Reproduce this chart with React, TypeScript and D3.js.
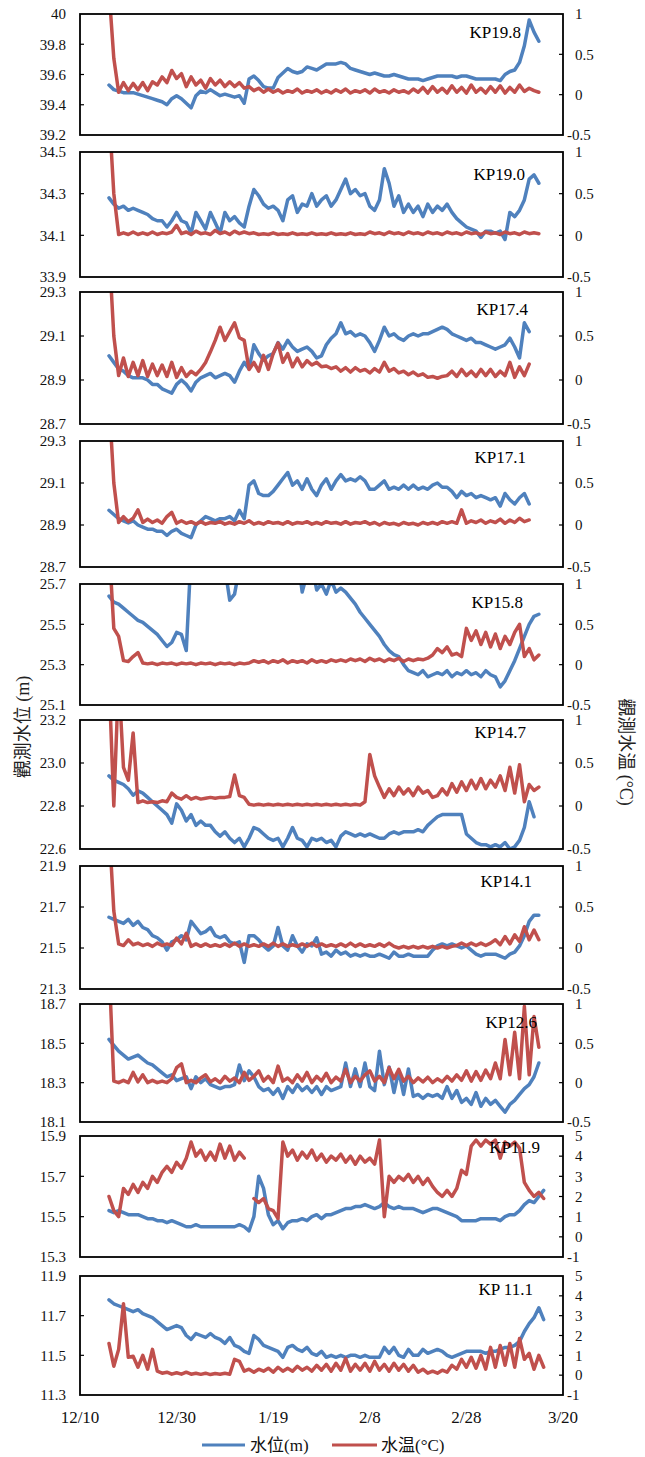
import React from 'react';
import * as d3 from 'd3';

// daily readings, first value is 12/16
const firstReading = '2014-12-16';
const axisDates = ['2014-12-10', '2014-12-30', '2015-01-19', '2015-02-08', '2015-02-28', '2015-03-20'];

const stationNames = ['KP19.8', 'KP19.0', 'KP17.4', 'KP17.1', 'KP15.8', 'KP14.7', 'KP14.1', 'KP12.6', 'KP11.9', 'KP 11.1'];

const levelTickLabels = [
  ['39.2', '39.4', '39.6', '39.8', '40'],
  ['33.9', '34.1', '34.3', '34.5'],
  ['28.7', '28.9', '29.1', '29.3'],
  ['28.7', '28.9', '29.1', '29.3'],
  ['25.1', '25.3', '25.5', '25.7'],
  ['22.6', '22.8', '23.0', '23.2'],
  ['21.3', '21.5', '21.7', '21.9'],
  ['18.1', '18.3', '18.5', '18.7'],
  ['15.3', '15.5', '15.7', '15.9'],
  ['11.3', '11.5', '11.7', '11.9'],
];
const smallTempTicks = ['-0.5', '0', '0.5', '1'];
const wideTempTicks = ['-1', '0', '1', '2', '3', '4', '5'];
const tempTickLabels = [
  smallTempTicks, smallTempTicks, smallTempTicks, smallTempTicks, smallTempTicks,
  smallTempTicks, smallTempTicks, smallTempTicks, wideTempTicks, wideTempTicks,
];

const legendLabels = ['水位(m)', '水温(°C)'];

// 水位 (m)
const kp198Level = [
  39.53, 39.50, 39.49, 39.48, 39.48, 39.48, 39.47, 39.46, 39.45, 39.44,
  39.43, 39.42, 39.40, 39.44, 39.46, 39.44, 39.41, 39.38, 39.46, 39.49,
  39.48, 39.50, 39.48, 39.46, 39.47, 39.46, 39.45, 39.46, 39.41, 39.57,
  39.59, 39.56, 39.52, 39.51, 39.51, 39.58, 39.61, 39.64, 39.62, 39.61,
  39.62, 39.65, 39.64, 39.63, 39.65, 39.67, 39.67, 39.67, 39.68, 39.67,
  39.64, 39.63, 39.62, 39.61, 39.60, 39.61, 39.60, 39.59, 39.59, 39.60,
  39.59, 39.58, 39.57, 39.57, 39.57, 39.56, 39.57, 39.58, 39.59, 39.59,
  39.59, 39.59, 39.58, 39.59, 39.59, 39.58, 39.57, 39.57, 39.57, 39.57,
  39.57, 39.56, 39.60, 39.62, 39.63, 39.68, 39.79, 39.96, 39.88, 39.82,
];
const kp190Level = [
  34.28, 34.25, 34.23, 34.24, 34.22, 34.23, 34.22, 34.21, 34.20, 34.18,
  34.17, 34.17, 34.14, 34.17, 34.21, 34.17, 34.16, 34.11, 34.21, 34.17,
  34.13, 34.21, 34.16, 34.11, 34.21, 34.17, 34.19, 34.16, 34.14, 34.24,
  34.32, 34.29, 34.25, 34.23, 34.24, 34.22, 34.17, 34.27, 34.29, 34.21,
  34.25, 34.24, 34.30, 34.24, 34.27, 34.29, 34.24, 34.27, 34.32, 34.37,
  34.30, 34.32, 34.29, 34.30, 34.24, 34.22, 34.27, 34.42, 34.35, 34.24,
  34.29, 34.21, 34.25, 34.21, 34.24, 34.19, 34.25, 34.21, 34.24, 34.22,
  34.25, 34.21, 34.18, 34.16, 34.14, 34.13, 34.12, 34.09, 34.12, 34.12,
  34.11, 34.12, 34.08, 34.21, 34.19, 34.22, 34.27, 34.37, 34.39, 34.35,
];
const kp174Level = [
  29.01, 28.98, 28.95, 28.94, 28.92, 28.91, 28.91, 28.91, 28.90, 28.88,
  28.88, 28.86, 28.85, 28.84, 28.88, 28.90, 28.88, 28.85, 28.89, 28.91,
  28.92, 28.93, 28.91, 28.92, 28.93, 28.92, 28.89, 28.94, 28.98, 28.95,
  29.06, 29.02, 28.99, 29.01, 29.02, 29.07, 29.04, 29.08, 29.05, 29.03,
  29.04, 29.05, 29.03, 29.00, 29.01, 29.06, 29.09, 29.11, 29.16, 29.11,
  29.12, 29.10, 29.11, 29.10, 29.07, 29.03, 29.08, 29.14, 29.10, 29.11,
  29.09, 29.08, 29.10, 29.11, 29.10, 29.11, 29.11, 29.12, 29.13, 29.14,
  29.13, 29.11, 29.10, 29.09, 29.08, 29.09, 29.07, 29.07, 29.06, 29.05,
  29.04, 29.05, 29.06, 29.09, 29.05, 29.00, 29.16, 29.12,
];
const kp171Level = [
  28.97, 28.95, 28.93, 28.92, 28.91, 28.92, 28.90, 28.89, 28.88, 28.88,
  28.87, 28.87, 28.85, 28.87, 28.88, 28.86, 28.85, 28.84, 28.90, 28.92,
  28.94, 28.93, 28.92, 28.93, 28.93, 28.94, 28.92, 28.97, 28.93, 29.09,
  29.11, 29.05, 29.04, 29.04, 29.06, 29.09, 29.12, 29.15, 29.09, 29.11,
  29.07, 29.12, 29.07, 29.04, 29.09, 29.12, 29.07, 29.11, 29.14, 29.11,
  29.12, 29.11, 29.13, 29.11, 29.07, 29.07, 29.09, 29.11, 29.07, 29.08,
  29.07, 29.09, 29.07, 29.09, 29.07, 29.08, 29.07, 29.09, 29.10, 29.08,
  29.08, 29.06, 29.03, 29.06, 29.04, 29.05, 29.03, 29.04, 29.03, 29.02,
  29.03, 28.99, 29.05, 29.02, 29.00, 29.03, 29.05, 29.00,
];
const kp158Level = [
  25.64, 25.61, 25.60, 25.58, 25.56, 25.54, 25.52, 25.51, 25.49, 25.47,
  25.45, 25.42, 25.39, 25.41, 25.46, 25.45, 25.37, 25.85, 25.85, 25.85,
  25.85, 25.85, 25.85, 25.85, 25.78, 25.62, 25.65, 25.78, 25.85, 25.85,
  25.85, 25.85, 25.85, 25.85, 25.85, 25.85, 25.85, 25.85, 25.85, 25.85,
  25.66, 25.75, 25.80, 25.67, 25.70, 25.65, 25.72, 25.66, 25.68, 25.66,
  25.63, 25.60, 25.56, 25.53, 25.50, 25.47, 25.44, 25.40, 25.37, 25.35,
  25.34, 25.30, 25.27, 25.26, 25.25, 25.27, 25.24, 25.25, 25.26, 25.25,
  25.27, 25.24, 25.26, 25.25, 25.27, 25.25, 25.26, 25.24, 25.27, 25.25,
  25.24, 25.19, 25.22, 25.27, 25.32, 25.38, 25.44, 25.50, 25.54, 25.55,
];
const kp147Level = [
  22.94, 22.92, 22.91, 22.90, 22.88, 22.85, 22.87, 22.86, 22.84, 22.82,
  22.80, 22.78, 22.76, 22.72, 22.81, 22.78, 22.73, 22.76, 22.71, 22.73,
  22.71, 22.71, 22.68, 22.66, 22.68, 22.65, 22.63, 22.65, 22.61, 22.65,
  22.70, 22.69, 22.67, 22.65, 22.64, 22.65, 22.61, 22.65, 22.70, 22.65,
  22.64, 22.61, 22.65, 22.64, 22.65, 22.63, 22.64, 22.61, 22.66, 22.68,
  22.67, 22.66, 22.67, 22.66, 22.67, 22.66, 22.65, 22.65, 22.67, 22.68,
  22.67, 22.68, 22.68, 22.68, 22.69, 22.68, 22.71, 22.73, 22.75, 22.76,
  22.76, 22.76, 22.76, 22.76, 22.67, 22.65, 22.63, 22.62, 22.62, 22.61,
  22.62, 22.61, 22.63, 22.60, 22.61, 22.64, 22.70, 22.82, 22.75,
];
const kp141Level = [
  21.65, 21.64, 21.63, 21.62, 21.64, 21.61, 21.63, 21.60, 21.59, 21.56,
  21.55, 21.53, 21.49, 21.53, 21.54, 21.56, 21.54, 21.63, 21.60, 21.57,
  21.58, 21.60, 21.56, 21.55, 21.56, 21.53, 21.52, 21.53, 21.43, 21.56,
  21.56, 21.54, 21.51, 21.49, 21.51, 21.60, 21.51, 21.49, 21.56, 21.51,
  21.48, 21.52, 21.51, 21.55, 21.47, 21.48, 21.46, 21.49, 21.47, 21.48,
  21.46, 21.47, 21.46, 21.47, 21.46, 21.46, 21.47, 21.46, 21.45, 21.48,
  21.46, 21.46, 21.47, 21.46, 21.46, 21.46, 21.46, 21.49, 21.51, 21.52,
  21.51, 21.52, 21.51, 21.50, 21.51, 21.49, 21.47, 21.46, 21.47, 21.47,
  21.47, 21.46, 21.45, 21.47, 21.48, 21.51, 21.56, 21.63, 21.66, 21.66,
];
const kp126Level = [
  18.52, 18.49, 18.46, 18.44, 18.42, 18.43, 18.44, 18.42, 18.40, 18.39,
  18.37, 18.35, 18.33, 18.34, 18.31, 18.32, 18.33, 18.27, 18.33, 18.30,
  18.32, 18.29, 18.28, 18.27, 18.28, 18.28, 18.29, 18.39, 18.31, 18.36,
  18.33, 18.28, 18.26, 18.27, 18.24, 18.27, 18.22, 18.28, 18.25, 18.29,
  18.26, 18.28, 18.25, 18.28, 18.24, 18.28, 18.26, 18.27, 18.28, 18.40,
  18.28, 18.37, 18.28, 18.40, 18.28, 18.26, 18.46, 18.29, 18.38, 18.25,
  18.36, 18.24, 18.37, 18.23, 18.24, 18.22, 18.24, 18.23, 18.24, 18.22,
  18.28, 18.22, 18.26, 18.20, 18.22, 18.19, 18.25, 18.18, 18.22, 18.19,
  18.21, 18.18, 18.15, 18.19, 18.21, 18.24, 18.27, 18.29, 18.33, 18.40,
];
const kp119Level = [
  15.53, 15.52, 15.53, 15.52, 15.51, 15.51, 15.51, 15.50, 15.49, 15.49,
  15.48, 15.48, 15.47, 15.48, 15.47, 15.46, 15.45, 15.45, 15.46, 15.45,
  15.45, 15.45, 15.45, 15.45, 15.45, 15.45, 15.45, 15.46, 15.45, 15.43,
  15.50, 15.70, 15.64, 15.51, 15.46, 15.48, 15.44, 15.47, 15.48, 15.48,
  15.49, 15.48, 15.50, 15.51, 15.49, 15.51, 15.51, 15.52, 15.53, 15.54,
  15.54, 15.55, 15.55, 15.56, 15.55, 15.54, 15.55, 15.57, 15.55, 15.54,
  15.55, 15.54, 15.54, 15.54, 15.53, 15.52, 15.53, 15.54, 15.54, 15.53,
  15.52, 15.51, 15.50, 15.48, 15.48, 15.48, 15.48, 15.49, 15.49, 15.49,
  15.49, 15.48, 15.50, 15.51, 15.51, 15.53, 15.56, 15.58, 15.57, 15.60, 15.63,
];
const kp111Level = [
  11.78, 11.76, 11.75, 11.74, 11.73, 11.72, 11.73, 11.71, 11.70, 11.69,
  11.67, 11.65, 11.63, 11.64, 11.65, 11.64, 11.60, 11.58, 11.61, 11.60,
  11.59, 11.61, 11.59, 11.58, 11.56, 11.59, 11.55, 11.54, 11.52, 11.51,
  11.60, 11.58, 11.55, 11.54, 11.53, 11.52, 11.49, 11.54, 11.55, 11.53,
  11.52, 11.54, 11.51, 11.50, 11.52, 11.49, 11.50, 11.49, 11.50, 11.49,
  11.50, 11.50, 11.49, 11.50, 11.49, 11.49, 11.49, 11.54, 11.51, 11.54,
  11.50, 11.49, 11.53, 11.50, 11.50, 11.53, 11.51, 11.52, 11.53, 11.52,
  11.50, 11.49, 11.50, 11.51, 11.52, 11.52, 11.52, 11.52, 11.51, 11.52,
  11.52, 11.53, 11.54, 11.54, 11.55, 11.57, 11.62, 11.66, 11.69, 11.74, 11.68,
];

// 水温 (°C)
const kp198Temp = [
  1.3, 0.45, 0.03, 0.15, 0.05, 0.14, 0.06, 0.15, 0.05, 0.16,
  0.12, 0.22, 0.15, 0.3, 0.2, 0.26, 0.1, 0.22, 0.12, 0.18,
  0.08, 0.2, 0.12, 0.18, 0.1, 0.16, 0.1, 0.15, 0.08, 0.1,
  0.05, 0.08, 0.03, 0.07, 0.03, 0.06, 0.02, 0.05, 0.03, 0.07,
  0.02, 0.05, 0.03, 0.06, 0.02, 0.05, 0.02, 0.06, 0.03, 0.07,
  0.02, 0.05, 0.03, 0.06, 0.02, 0.07, 0.03, 0.05, 0.02, 0.06,
  0.03, 0.05, 0.02, 0.07, 0.03, 0.09, 0.02, 0.1, 0.03, 0.08,
  0.02, 0.11, 0.03, 0.09, 0.02, 0.12, 0.03, 0.08, 0.02, 0.1,
  0.03, 0.11, 0.02, 0.09, 0.03, 0.12, 0.04, 0.08, 0.05, 0.03,
];
const kp190Temp = [
  1.5, 0.5, 0.01, 0.03, 0.01, 0.04, 0.01, 0.03, 0.01, 0.04,
  0.01, 0.03, 0.02, 0.04, 0.12, 0.02, 0.04, 0.01, 0.05, 0.02,
  0.03, 0.01, 0.06, 0.02, 0.04, 0.01, 0.05, 0.02, 0.04, 0.02,
  0.03, 0.01, 0.02, 0.01, 0.03, 0.01, 0.02, 0.01, 0.03, 0.01,
  0.02, 0.01, 0.03, 0.01, 0.02, 0.01, 0.03, 0.01, 0.02, 0.01,
  0.03, 0.01, 0.02, 0.01, 0.04, 0.02, 0.03, 0.01, 0.04, 0.02,
  0.03, 0.01, 0.04, 0.02, 0.03, 0.01, 0.04, 0.02, 0.03, 0.01,
  0.04, 0.02, 0.03, 0.01, 0.04, 0.02, 0.03, 0.01, 0.04, 0.02,
  0.03, 0.01, 0.04, 0.02, 0.03, 0.01, 0.04, 0.02, 0.03, 0.02,
];
const kp174Temp = [
  1.5, 0.5, 0.05, 0.25, 0.04, 0.2, 0.05, 0.22, 0.04, 0.18,
  0.05, 0.17, 0.04, 0.2, 0.03, 0.14, 0.04, 0.1, 0.06, 0.12,
  0.2, 0.32, 0.45, 0.6, 0.45, 0.55, 0.65, 0.48, 0.45, 0.12,
  0.2, 0.1, 0.28, 0.12, 0.3, 0.42, 0.2, 0.3, 0.15, 0.25,
  0.15, 0.22, 0.17, 0.2, 0.15, 0.16, 0.13, 0.15, 0.1, 0.14,
  0.09, 0.14, 0.1, 0.12, 0.08, 0.13, 0.09, 0.2, 0.1, 0.13,
  0.08, 0.1, 0.06, 0.09, 0.05, 0.07, 0.03, 0.04, 0.02, 0.04,
  0.05, 0.1, 0.04, 0.12, 0.05, 0.1, 0.04, 0.12, 0.05, 0.12,
  0.04, 0.1, 0.05, 0.2, 0.03, 0.15, 0.05, 0.18,
];
const kp171Temp = [
  1.5, 0.5, 0.03, 0.1, 0.04, 0.08, 0.18, 0.03, 0.07, 0.03,
  0.06, 0.02, 0.1, 0.15, 0.02, 0.05, 0.02, 0.04, 0.01, 0.04,
  0.01, 0.03, 0.02, 0.04, 0.01, 0.03, 0.01, 0.04, 0.02, 0.05,
  0.01, 0.03, 0.01, 0.04, 0.02, 0.03, 0.01, 0.04, 0.01, 0.03,
  0.02, 0.04, 0.01, 0.03, 0.01, 0.04, 0.02, 0.03, 0.01, 0.04,
  0.01, 0.03, 0.02, 0.04, 0.01, 0.03, 0.0, 0.03, 0.01, 0.02,
  0.0, 0.03, 0.01, 0.02, 0.0, 0.03, 0.01, 0.03, 0.01, 0.04,
  0.02, 0.04, 0.02, 0.18, 0.02, 0.05, 0.03, 0.06, 0.02, 0.05,
  0.03, 0.07, 0.02, 0.06, 0.03, 0.08, 0.04, 0.06,
];
const kp158Temp = [
  1.5, 0.45, 0.35, 0.05, 0.04, 0.1, 0.15, 0.02, 0.01, 0.02,
  0.0, 0.02, 0.01, 0.02, 0.0, 0.02, 0.01, 0.02, 0.0, 0.02,
  0.01, 0.02, 0.0, 0.02, 0.01, 0.02, 0.0, 0.02, 0.01, 0.02,
  0.05, 0.03, 0.05, 0.02, 0.05, 0.03, 0.06, 0.02, 0.05, 0.03,
  0.05, 0.02, 0.06, 0.03, 0.05, 0.03, 0.06, 0.04, 0.06, 0.04,
  0.07, 0.05, 0.07, 0.04, 0.08, 0.05, 0.07, 0.04, 0.07, 0.05,
  0.08, 0.04, 0.07, 0.05, 0.07, 0.06, 0.08, 0.12, 0.2, 0.15,
  0.22, 0.12, 0.14, 0.1, 0.45, 0.3, 0.42, 0.25, 0.4, 0.22,
  0.38, 0.2, 0.35, 0.25, 0.4, 0.5, 0.1, 0.2, 0.06, 0.12,
];
const kp147Temp = [
  1.5, 0.0, 1.5, 0.45, 0.3, 0.85, 0.04, 0.06, 0.04, 0.05,
  0.04, 0.06, 0.05, 0.15, 0.1, 0.08, 0.12, 0.08, 0.1, 0.08,
  0.09, 0.1, 0.09, 0.1, 0.1, 0.11, 0.36, 0.12, 0.1, 0.02,
  0.01, 0.02, 0.01, 0.02, 0.01, 0.02, 0.01, 0.02, 0.01, 0.02,
  0.01, 0.02, 0.01, 0.02, 0.01, 0.02, 0.01, 0.02, 0.01, 0.02,
  0.01, 0.02, 0.01, 0.05, 0.6, 0.35, 0.22, 0.1, 0.2, 0.12,
  0.22, 0.14, 0.2, 0.12, 0.22, 0.15, 0.18, 0.1, 0.12, 0.2,
  0.13, 0.26, 0.16, 0.28, 0.18, 0.3, 0.2, 0.32, 0.2, 0.3,
  0.22, 0.35, 0.18, 0.45, 0.15, 0.48, 0.05, 0.25, 0.18, 0.22,
];
const kp141Temp = [
  1.5, 0.45, 0.05, 0.03, 0.1, 0.04, 0.06, 0.03, 0.05, 0.02,
  0.06, 0.03, 0.05, 0.03, 0.12, 0.05, 0.18, 0.02, 0.05, 0.02,
  0.05, 0.02, 0.04, 0.02, 0.05, 0.02, 0.06, 0.02, 0.05, 0.02,
  0.04, 0.02, 0.05, 0.02, 0.06, 0.02, 0.05, 0.02, 0.04, 0.02,
  0.05, 0.02, 0.06, 0.02, 0.05, 0.02, 0.04, 0.02, 0.05, 0.02,
  0.06, 0.02, 0.05, 0.02, 0.04, 0.02, 0.05, 0.02, 0.06, 0.02,
  0.0, 0.02, 0.0, 0.02, 0.0, 0.02, 0.0, 0.02, 0.0, 0.02,
  0.0, 0.02, 0.03, 0.06, 0.03, 0.06, 0.03, 0.06, 0.03, 0.06,
  0.1, 0.04, 0.14, 0.05, 0.16, 0.08, 0.26, 0.1, 0.22, 0.1,
];
const kp126Temp = [
  1.5, 0.02, 0.0, 0.03, 0.0, 0.13, 0.01, 0.1, 0.0, 0.03,
  0.0, 0.02, 0.0, 0.05, 0.19, 0.24, 0.0, 0.03, 0.0, 0.06,
  0.1, 0.01, 0.05, 0.0, 0.08, 0.02, 0.06, 0.0, 0.13, 0.03,
  0.08, 0.15, 0.02, 0.08, 0.0, 0.21, 0.02, 0.06, 0.0, 0.1,
  0.02, 0.13, 0.0, 0.08, 0.02, 0.12, 0.0, 0.07, 0.02, 0.17,
  0.0, 0.08, 0.02, 0.1, 0.15, 0.02, 0.08, 0.0, 0.19, 0.05,
  0.17, 0.02, 0.08, 0.0, 0.06, 0.01, 0.07, 0.0, 0.05, 0.01,
  0.08, 0.02, 0.1, 0.03, 0.15, 0.02, 0.14, 0.03, 0.16, 0.05,
  0.25, 0.05, 0.55, 0.1, 0.64, 0.05, 0.97, 0.1, 0.84, 0.45,
];
const kp119Temp = [
  2.0, 1.3, 1.0, 2.4, 2.1, 2.6, 2.2, 2.7, 2.4, 3.0,
  2.7, 3.2, 3.5, 3.2, 3.7, 3.4, 3.9, 4.7, 4.0, 4.3,
  3.8, 4.2, 3.8, 4.6, 3.9, 4.5, 3.8, 4.2, 3.9, null,
  1.9, 1.7, 1.9, 1.4, 1.3, 0.9, 4.7, 4.0, 4.3, 3.8,
  4.2, 3.9, 4.3, 3.8, 4.1, 3.7, 4.0, 3.8, 4.1, 3.7,
  4.0, 3.6, 4.0, 3.7, 3.9, 3.6, 4.8, 1.0, 3.0, 2.7,
  3.0, 2.8, 3.1, 2.7, 3.0, 2.6, 2.9, 2.5, 2.2, 2.0,
  2.3, 2.0, 2.4, 3.3, 3.1, 4.5, 4.8, 4.5, 4.8, 4.6,
  4.8, 3.9, 4.7, 4.5, 4.7, 4.4, 2.7, 2.3, 2.0, 2.2, 1.9,
];
const kp111Temp = [
  1.6, 0.45, 1.3, 3.6, 0.9, 0.95, 0.4, 1.0, 0.3, 1.3,
  0.2, 0.1, 0.15, 0.05, 0.12, 0.05, 0.15, 0.05, 0.1, 0.04,
  0.1, 0.03, 0.08, 0.05, 0.1, 0.05, 0.8, 0.7, 0.2, 0.3,
  0.15, 0.3, 0.2, 0.35, 0.15, 0.4, 0.2, 0.35, 0.2, 0.45,
  0.25, 0.4, 0.2, 0.5, 0.25, 0.55, 0.2, 0.6, 0.25, 0.85,
  0.2, 0.55, 0.25, 0.6, 0.2, 0.7, 0.25, 0.55, 0.2, 0.6,
  0.25, 0.55, 0.2, 0.5, 0.15, 0.3, 0.1, 0.2, 0.1, 0.25,
  0.15, 0.5, 0.3, 0.8, 0.4, 0.9, 0.35, 1.0, 0.3, 1.4,
  0.4, 1.5, 0.5, 1.6, 0.4, 1.85, 0.8, 1.1, 0.3, 1.0, 0.4,
];

const levelSeries = [kp198Level, kp190Level, kp174Level, kp171Level, kp158Level, kp147Level, kp141Level, kp126Level, kp119Level, kp111Level];
const tempSeries = [kp198Temp, kp190Temp, kp174Temp, kp171Temp, kp158Temp, kp147Temp, kp141Temp, kp126Temp, kp119Temp, kp111Temp];

// layout
const W = 645;
const H = 1457;
const plotLeft = 80;
const plotRight = 563;
const panelTop = [14, 152, 292, 441, 584, 720, 866, 1004, 1136, 1276];
const panelBottom = [135, 277, 424, 567, 705, 849, 989, 1122, 1257, 1395];
const stationLabelX = [521, 525, 528, 526, 523, 526, 532, 537, 540, 533];
const stationLabelDy = [24, 28, 23, 22, 24, 18, 21, 24, 17, 19];

const BLUE = '#4F81BD';
const RED = '#C0504D';
const SERIF = '"Liberation Serif", "Times New Roman", "Noto Sans CJK TC", serif';

type Pt = [Date, number | null];

export default function App() {
  const parse = d3.timeParse('%Y-%m-%d');
  const axisTicks = axisDates.map(d => parse(d) as Date);
  const start = parse(firstReading) as Date;
  const fmt = d3.timeFormat('%-m/%-d');

  const x = d3.scaleTime()
    .domain([axisTicks[0], axisTicks[axisTicks.length - 1]])
    .range([plotLeft, plotRight]);

  const toPoints = (vals: (number | null)[]): Pt[] =>
    vals.map((v, k) => [d3.timeDay.offset(start, k), v]);

  const panels = stationNames.map((name, i) => {
    const top = panelTop[i];
    const bottom = panelBottom[i];
    const lv = levelTickLabels[i].map(Number);
    const tv = tempTickLabels[i].map(Number);
    const yL = d3.scaleLinear().domain([lv[0], lv[lv.length - 1]]).range([bottom, top]);
    const yT = d3.scaleLinear().domain([tv[0], tv[tv.length - 1]]).range([bottom, top]);

    const levelLine = d3.line<Pt>()
      .defined(d => d[1] != null)
      .x(d => x(d[0]))
      .y(d => yL(d[1] as number));
    const tempLine = d3.line<Pt>()
      .defined(d => d[1] != null)
      .x(d => x(d[0]))
      .y(d => yT(d[1] as number));

    return (
      <g key={name}>
        <clipPath id={`clip${i}`}>
          <rect x={plotLeft} y={top} width={plotRight - plotLeft} height={bottom - top} />
        </clipPath>
        <g clipPath={`url(#clip${i})`}>
          <path d={levelLine(toPoints(levelSeries[i])) || ''} fill="none" stroke={BLUE}
            strokeWidth={3.5} strokeLinejoin="round" strokeLinecap="round" />
          <path d={tempLine(toPoints(tempSeries[i])) || ''} fill="none" stroke={RED}
            strokeWidth={3.5} strokeLinejoin="round" strokeLinecap="round" />
        </g>
        <rect x={plotLeft} y={top} width={plotRight - plotLeft} height={bottom - top}
          fill="none" stroke="#000" strokeWidth={1.8} />

        {/* left axis */}
        {levelTickLabels[i].map((lab, k) => (
          <g key={'l' + k}>
            {k > 0 && k < lv.length - 1 && (
              <line x1={plotLeft} x2={plotLeft + 4} y1={yL(lv[k])} y2={yL(lv[k])} stroke="#000" strokeWidth={1.2} />
            )}
            <text x={66} y={yL(lv[k])} dy="0.35em" textAnchor="end" fontSize={15}
              fontFamily={SERIF} fill="#111">{lab}</text>
          </g>
        ))}

        {/* right axis */}
        {tempTickLabels[i].map((lab, k) => (
          <g key={'r' + k}>
            {k > 0 && k < tv.length - 1 && (
              <line x1={plotRight - 4} x2={plotRight} y1={yT(tv[k])} y2={yT(tv[k])} stroke="#000" strokeWidth={1.2} />
            )}
            <text x={tv[k] < 0 ? 567 : 575} y={yT(tv[k])} dy="0.35em" textAnchor="start" fontSize={15}
              fontFamily={SERIF} fill="#111">{lab}</text>
          </g>
        ))}

        <text x={stationLabelX[i]} y={top + stationLabelDy[i]} textAnchor="end" fontSize={17}
          fontFamily={SERIF} fill="#000">{name}</text>
      </g>
    );
  });

  const lastBottom = panelBottom[panelBottom.length - 1];

  return (
    <svg width={W} height={H} style={{ position: 'absolute', left: 0, top: 0, background: '#fff' }}>
      <rect width={W} height={H} fill="#fff" />
      {panels}

      {axisTicks.map((d, k) => (
        <text key={k} x={x(d)} y={lastBottom + 28} textAnchor="middle" fontSize={17}
          fontFamily={SERIF} fill="#111">{fmt(d)}</text>
      ))}

      <text transform="translate(29,727) rotate(-90)" textAnchor="middle" fontSize={18}
        fontFamily={SERIF} fill="#222">觀測水位 (m)</text>
      <text transform="translate(620,752) rotate(90)" textAnchor="middle" fontSize={18}
        fontFamily={SERIF} fill="#222">觀測水温 (°C)</text>

      <g>
        <line x1={202} x2={245} y1={1445} y2={1445} stroke={BLUE} strokeWidth={3} />
        <text x={250} y={1451} fontSize={17} fontFamily={SERIF} fill="#111">{legendLabels[0]}</text>
        <line x1={332} x2={377} y1={1445} y2={1445} stroke={RED} strokeWidth={3} />
        <text x={381} y={1451} fontSize={17} fontFamily={SERIF} fill="#111">{legendLabels[1]}</text>
      </g>
    </svg>
  );
}
